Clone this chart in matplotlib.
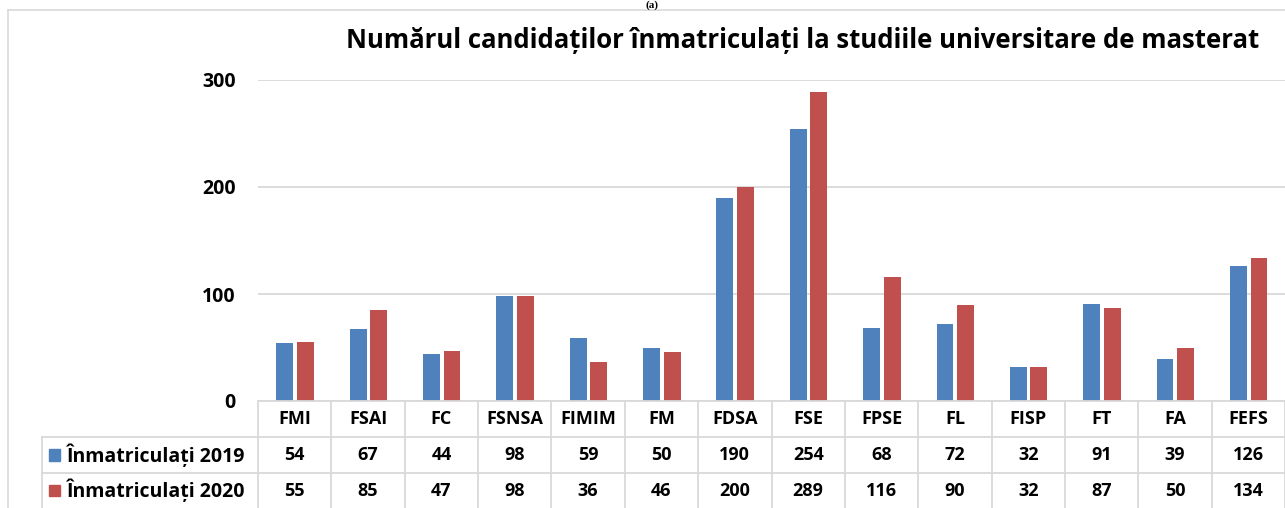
import numpy as np
import matplotlib
matplotlib.use("Agg")
import matplotlib.pyplot as plt
from matplotlib.lines import Line2D
from matplotlib.patches import Rectangle
from matplotlib.transforms import blended_transform_factory

# ========================================================
# Data
# ========================================================
faculties = ["FMI", "FSAI", "FC", "FSNSA", "FIMIM", "FM", "FDSA",
             "FSE", "FPSE", "FL", "FISP", "FT", "FA", "FEFS"]
enrolled_2019 = [54, 67, 44, 98, 59, 50, 190, 254, 68, 72, 32, 91, 39, 126]
enrolled_2020 = [55, 85, 47, 98, 36, 46, 200, 289, 116, 90, 32, 87, 50, 134]
series_labels = ["Înmatriculați 2019", "Înmatriculați 2020"]
yticks = [0, 100, 200, 300]

BLUE = "#4F81BD"
RED = "#C0504D"
GRID = "#D9D9D9"
FONT = "Open Sans"

W, H = 1285, 508
fig = plt.figure(figsize=(W / 100, H / 100), dpi=100)


def fx(px):
    return px / W


def fy(py):
    return 1 - py / H


# plot area
ax_left, ax_right, ax_top, ax_bot = 258, 1285, 80, 401
ax = fig.add_axes([fx(ax_left), fy(ax_bot), fx(ax_right - ax_left), fy(ax_top) - fy(ax_bot)])

x = np.arange(len(faculties))
bw = 0.23
ax.bar(x - 0.135, enrolled_2019, bw, color=BLUE)
ax.bar(x + 0.145, enrolled_2020, bw, color=RED)

ax.set_xlim(-0.5, len(faculties) - 0.5)
ax.set_ylim(0, 300)
ax.set_yticks(yticks)
ax.set_yticklabels([str(t) for t in yticks], fontfamily=FONT, fontweight="bold", fontsize=14)
ax.tick_params(axis="y", length=0, pad=16)
ax.set_xticks([])
ax.yaxis.grid(True, color=GRID, linewidth=1.3)
ax.set_axisbelow(True)
for s in ["top", "right", "left", "bottom"]:
    ax.spines[s].set_visible(False)

# title
fig.text(fx(803), fy(40), "Numărul candidaților înmatriculați la studiile universitare de masterat",
         ha="center", va="center", fontfamily=FONT, fontweight="bold", fontsize=18.5)
# caption above the frame
fig.text(fx(652), fy(5), "(a)", ha="center", va="center", fontfamily="Liberation Serif",
         fontweight="bold", fontsize=8)

# outer frame
fig.add_artist(Line2D([fx(8), fx(W)], [fy(10), fy(10)], color=GRID, lw=1.2, transform=fig.transFigure))
fig.add_artist(Line2D([fx(8), fx(8)], [fy(10), fy(H)], color=GRID, lw=1.2, transform=fig.transFigure))

# ========================================================
# Data table below the axis
# ========================================================
row_y = [401, 437, 473, 508]
lbl_left = 42
col_w = (ax_right - ax_left) / len(faculties)


def hline(x1, x2, y):
    fig.add_artist(Line2D([fx(x1), fx(x2)], [fy(y), fy(y)], color=GRID, lw=1.3,
                          transform=fig.transFigure))


def vline(xp, y1, y2):
    fig.add_artist(Line2D([fx(xp), fx(xp)], [fy(y1), fy(y2)], color=GRID, lw=1.3,
                          transform=fig.transFigure))


hline(ax_left, W, row_y[0])
hline(lbl_left, W, row_y[1])
hline(lbl_left, W, row_y[2])
vline(lbl_left, row_y[1], row_y[3])
for i in range(len(faculties) + 1):
    vline(ax_left + i * col_w, row_y[0], row_y[3])

trans = blended_transform_factory(ax.transData, fig.transFigure)
cell_kw = dict(ha="center", va="center", fontfamily=FONT, fontweight="bold", fontsize=13)
for i, name in enumerate(faculties):
    ax.text(i, fy((row_y[0] + row_y[1]) / 2), name, transform=trans, clip_on=False, **cell_kw)
    ax.text(i, fy((row_y[1] + row_y[2]) / 2), str(enrolled_2019[i]), transform=trans,
            clip_on=False, **cell_kw)
    ax.text(i, fy((row_y[2] + row_y[3]) / 2), str(enrolled_2020[i]), transform=trans,
            clip_on=False, **cell_kw)

for r, (lbl, col) in enumerate(zip(series_labels, [BLUE, RED])):
    yc = (row_y[r + 1] + row_y[r + 2]) / 2
    fig.add_artist(Rectangle((fx(49), fy(yc + 5.5)), fx(11), fy(yc - 5.5) - fy(yc + 5.5),
                             color=col, transform=fig.transFigure))
    fig.text(fx(67), fy(yc), lbl, ha="left", va="center", fontfamily=FONT,
             fontweight="bold", fontsize=14)

fig.savefig("out.png", dpi=100)
